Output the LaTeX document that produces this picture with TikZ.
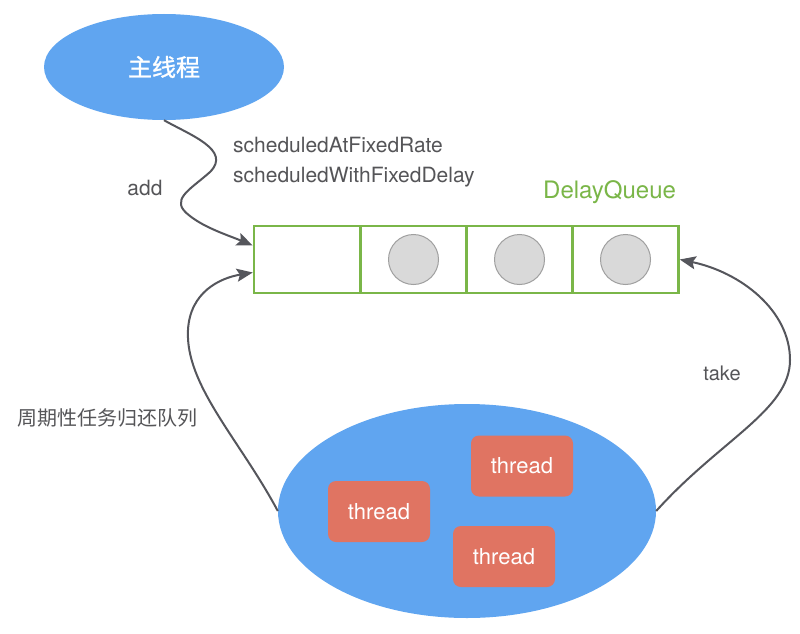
\documentclass[tikz,border=0pt]{standalone}
\usepackage{fontspec}
\setmainfont{TeX Gyre Heros}
\newfontfamily\cjk{Noto Sans CJK SC}
\newfontfamily\cjkm[FakeBold=1.2]{Noto Sans CJK SC}
\usetikzlibrary{shapes.geometric,arrows.meta}
\definecolor{bluefill}{RGB}{96,165,240}
\definecolor{redfill}{RGB}{224,116,98}
\definecolor{qgreen}{RGB}{122,182,72}
\definecolor{txtgray}{RGB}{85,85,88}
\definecolor{arrgray}{RGB}{85,86,92}
\definecolor{cgray}{RGB}{217,217,217}
\definecolor{cedge}{RGB}{160,160,160}
\tikzset{
  blob/.style={ellipse, fill=bluefill, draw=none, inner sep=0pt},
  cell/.style={rectangle, draw=qgreen, line width=2.5pt, minimum width=106pt, minimum height=67pt, inner sep=0pt},
  item/.style={circle, fill=cgray, draw=cedge, line width=1pt, minimum size=50pt, inner sep=0pt},
  thr/.style={rectangle, rounded corners=8pt, fill=redfill, draw=none, minimum width=102pt, minimum height=61pt, text=white, font=\fontsize{22}{26}\selectfont},
  lab/.style={text=txtgray, inner sep=0pt, font=\fontsize{21}{25}\selectfont},
  conn/.style={draw=arrgray, line width=2pt, -{Stealth[length=16pt,width=13pt,inset=3pt]}}
}
\begin{document}
\begin{tikzpicture}[x=1pt,y=-1pt]
\useasboundingbox[fill=white] (0,0) rectangle (800,634);
% main thread
\node[blob, minimum width=240pt, minimum height=106pt, text=white, font=\cjkm\fontsize{24}{28}\selectfont] (main) at (164,67) {主线程};
% queue
\node[cell] (q1) at (307,259.5) {};
\node[cell] (q2) at (413.5,259.5) {};
\node[cell] (q3) at (519.5,259.5) {};
\node[cell] (q4) at (625.5,259.5) {};
\node[item] (c2) at (q2.center) {};
\node[item] (c3) at (q3.center) {};
\node[item] (c4) at (q4.center) {};
\node[text=qgreen, inner sep=0pt, anchor=west, font=\fontsize{24}{28}\selectfont] (dq) at (543,192) {DelayQueue};
% pool
\node[blob, minimum width=378pt, minimum height=214pt] (pool) at (467,511) {};
\node[thr] (t1) at (379,511.5) {thread};
\node[thr] (t2) at (522,466) {thread};
\node[thr] (t3) at (504,556.5) {thread};
% labels
\node[lab, anchor=west] (l1) at (233,145) {scheduledAtFixedRate};
\node[lab, anchor=west] (l2) at (233,177) {scheduledWithFixedDelay};
\node[lab] (ladd) at (145,188) {add};
\node[lab, font=\fontsize{20}{24}\selectfont] (ltake) at (722,373) {take};
\node[lab, font=\cjk\fontsize{20}{24}\selectfont] (lret) at (107,418) {周期性任务归还队列};
% connectors
\coordinate (inA) at ([yshift=14pt]q1.west);
\coordinate (inB) at ([yshift=-13pt]q1.west);
\path[conn] (main.south) .. controls (190,135) and (232,150) .. (210,172)
   .. controls (190,190) and (168,200) .. (190,216)
   .. controls (205,228) and (230,236) .. (inA);
\path[conn] (pool.west) .. controls (240,440) and (185,385) .. (188,330)
   .. controls (190,292) and (220,278) .. (inB);
\path[conn] (pool.east) .. controls (720,440) and (790,410) .. (790,360)
   .. controls (790,310) and (740,272) .. (q4.east);
\end{tikzpicture}
\end{document}
